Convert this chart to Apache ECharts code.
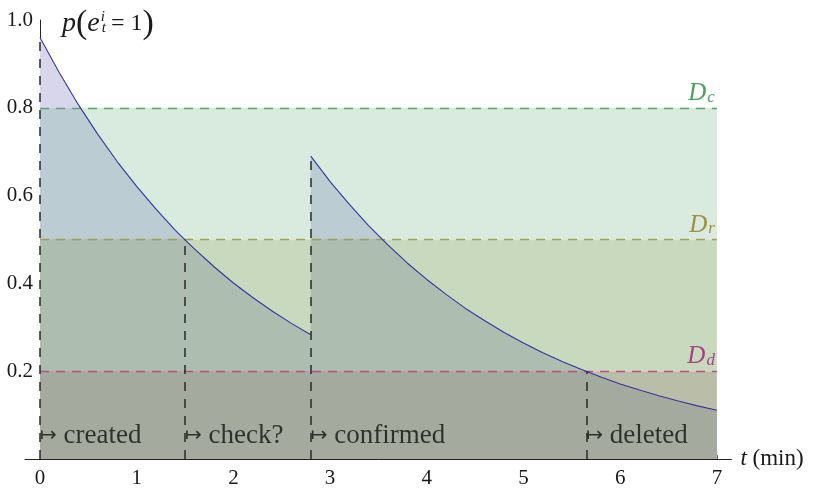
<!DOCTYPE html>
<html><head><meta charset="utf-8">
<script src="https://cdn.jsdelivr.net/npm/echarts@6/dist/echarts.min.js"></script>
<style>html,body{margin:0;padding:0;background:#fff}#c{width:831px;height:490px}</style>
</head><body><div id="c"></div>
<script>
// ---- data ----
const xTicks = [0, 1, 2, 3, 4, 5, 6, 7];
const yTicks = [0.2, 0.4, 0.6, 0.8, 1.0];
// probability curve, first decay (created -> re-confirmed)
const curveA = [[0,0.960],[0.2,0.880],[0.4,0.806],[0.6,0.739],[0.8,0.677],[1.0,0.621],[1.2,0.569],[1.4,0.521],[1.5,0.499],[1.6,0.478],[1.8,0.438],[2.0,0.401],[2.2,0.368],[2.4,0.337],[2.6,0.309],[2.8,0.283]];
// second decay after confirmation
const curveB = [[2.8,0.690],[3.0,0.632],[3.2,0.580],[3.4,0.531],[3.6,0.487],[3.8,0.446],[4.0,0.409],[4.2,0.375],[4.4,0.343],[4.6,0.315],[4.8,0.288],[5.0,0.264],[5.2,0.242],[5.4,0.222],[5.6,0.204],[5.8,0.187],[6.0,0.171],[6.2,0.157],[6.4,0.144],[6.6,0.132],[6.8,0.121],[7.0,0.111]];
const thresholds = [0.8, 0.5, 0.2];
const thresholdSubs = ['c', 'r', 'd'];
const eventTimes = [0, 1.5, 2.8, 5.65];
const eventLevels = [0.96, 0.5, 0.69, 0.2];
const eventLabels = ['created', 'check?', 'confirmed', 'deleted'];
const xMax = 7;

// ---- styles ----
const FONT = 'Liberation Serif, DejaVu Serif, serif';
const thrColors = ['#5aa66c', '#a89c55', '#b9508e'];
const thrTextColors = ['#4f9e62', '#a0913f', '#a34585'];
const bandColors = ['#d9eadf', '#c9d9bd', '#babea9'];     // above curve
const underColors = ['#d8d6eb', '#bbcdd2', '#adbdaf', '#a5aa9e']; // below curve

const bandEdges = [thresholds[0], thresholds[1], thresholds[2], 0];
const markAreaData = [];
for (let i = 0; i < 3; i++) {
  markAreaData.push([
    { xAxis: 0, yAxis: bandEdges[i + 1], itemStyle: { color: bandColors[i] } },
    { xAxis: xMax, yAxis: bandEdges[i] }
  ]);
}

const thrLines = thresholds.map((v, i) => [
  { coord: [0, v], lineStyle: { color: thrColors[i], type: [9, 7], width: 1.3 },
    label: { show: true, position: 'insideEndTop', distance: [2, 2],
      formatter: '{D|D}{s|' + thresholdSubs[i] + '}',
      rich: {
        D: { fontFamily: FONT, fontStyle: 'italic', fontSize: 25, color: thrTextColors[i], verticalAlign: 'top' },
        s: { fontFamily: FONT, fontStyle: 'italic', fontSize: 17, color: thrTextColors[i], verticalAlign: 'bottom', padding: [0, 0, 0, 1] }
      } } },
  { coord: [xMax, v] }
]);

const evLines = eventTimes.map((t, i) => [
  { coord: [t, 0] }, { coord: [t, eventLevels[i]] }
]);

const pieces = [
  { gt: thresholds[0], lte: 1, color: underColors[0] },
  { gt: thresholds[1], lte: thresholds[0], color: underColors[1] },
  { gt: thresholds[2], lte: thresholds[1], color: underColors[2] },
  { gte: 0, lte: thresholds[2], color: underColors[3] }
];

const chart = echarts.init(document.getElementById('c'), null, { renderer: 'canvas' });
chart.setOption({
  animation: false,
  backgroundColor: '#ffffff',
  grid: { left: 25, right: 99.6, top: 20, bottom: 31, containLabel: false, outerBoundsMode: 'none' },
  visualMap: { type: 'piecewise', show: false, dimension: 1, seriesIndex: 0, pieces: pieces },
  xAxis: {
    type: 'value', min: -0.155, max: 7.15,
    splitLine: { show: false },
    axisLine: { show: true, onZero: true, lineStyle: { color: '#222', width: 1 } },
    axisTick: { show: true, inside: true, length: 4, customValues: xTicks, lineStyle: { color: '#666' } },
    axisLabel: { customValues: xTicks, fontFamily: FONT, fontSize: 21, color: '#1a1a1a', margin: 9 },
    name: '{t|t} (min)', nameLocation: 'end', nameGap: 9,
    nameTextStyle: { fontFamily: FONT, fontSize: 23, color: '#1a1a1a', verticalAlign: 'middle',
      rich: { t: { fontFamily: FONT, fontStyle: 'italic', fontSize: 23, color: '#1a1a1a' } } }
  },
  yAxis: {
    type: 'value', min: 0, max: 1, interval: 0.2,
    splitLine: { show: false },
    axisLine: { show: true, onZero: true, lineStyle: { color: '#222', width: 1 } },
    axisTick: { show: false },
    axisLabel: { fontFamily: FONT, fontSize: 21, color: '#1a1a1a', margin: -8,
      formatter: v => (yTicks.some(y => Math.abs(y - v) < 1e-9) ? v.toFixed(1) : '') },
    name: '{p|p}{par|(}{e|e}{sup|i}{sub|t}{eq|= 1}{par|)}',
    nameLocation: 'end', nameGap: -4,
    nameTextStyle: { align: 'left', verticalAlign: 'middle', padding: [0, 0, 0, 22],
      rich: {
        p: { fontFamily: FONT, fontStyle: 'italic', fontSize: 28, color: '#1a1a1a' },
        par: { fontFamily: FONT, fontSize: 34, color: '#1a1a1a' },
        e: { fontFamily: FONT, fontStyle: 'italic', fontSize: 28, color: '#1a1a1a' },
        sup: { fontFamily: FONT, fontStyle: 'italic', fontSize: 15, color: '#1a1a1a', width: 0, verticalAlign: 'top', padding: [3, 0, 0, 1] },
        sub: { fontFamily: FONT, fontStyle: 'italic', fontSize: 15, color: '#1a1a1a', verticalAlign: 'bottom', padding: [0, 5, 5, 1] },
        eq: { fontFamily: FONT, fontSize: 24, color: '#1a1a1a' }
      } }
  },
  series: [
    { // area under curve (coloured by band via visualMap)
      type: 'line', data: curveA.concat(curveB), symbol: 'none', z: 3,
      lineStyle: { width: 0 }, areaStyle: { opacity: 1 },
      markArea: { silent: true, z: 1, data: markAreaData }
    },
    {
      type: 'line', data: curveA, symbol: 'none', z: 6,
      lineStyle: { color: '#3434a6', width: 1.1 },
      markLine: { silent: true, symbol: 'none', z: 5, data: thrLines }
    },
    {
      type: 'line', data: curveB, symbol: 'none', z: 6,
      lineStyle: { color: '#3434a6', width: 1.1 },
      markLine: { silent: true, symbol: 'none', z: 7, label: { show: false },
        lineStyle: { color: '#2a2a2a', type: [9, 8], width: 1.5 }, data: evLines }
    },
    {
      type: 'scatter', symbolSize: 0, z: 8,
      data: eventTimes.map((t, i) => ({ value: [t, 0], name: eventLabels[i] })),
      label: { show: true, position: 'right', distance: 0, offset: [0, -23],
        formatter: p => '{a|↦}{b| ' + p.name + '}',
        rich: {
          a: { fontFamily: 'DejaVu Sans, sans-serif', fontSize: 20, color: '#111' },
          b: { fontFamily: FONT, fontSize: 27, color: '#111' }
        } }
    }
  ]
});
</script></body></html>
